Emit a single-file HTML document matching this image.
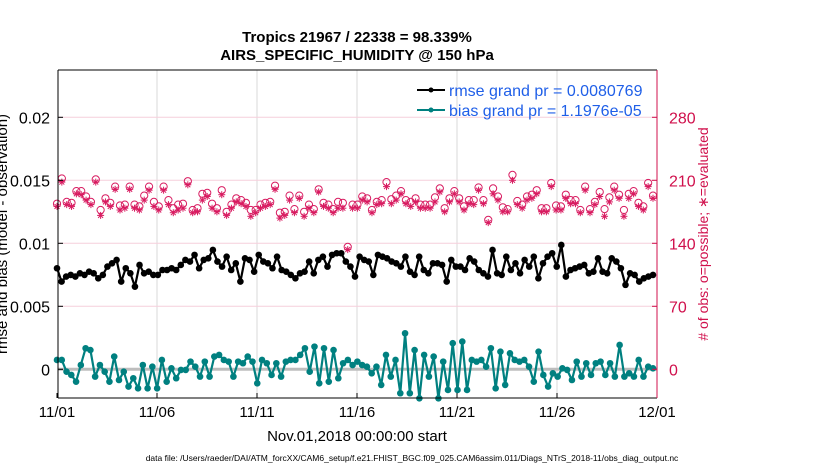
<!DOCTYPE html>
<html><head><meta charset="utf-8">
<style>
html,body{margin:0;padding:0;background:#fff;}
svg{display:block;font-family:"Liberation Sans",Arial,sans-serif;}
</style></head>
<body>
<svg id="chart" width="830" height="470" viewBox="0 0 830 470" xmlns="http://www.w3.org/2000/svg">
  <g id="grid"></g>
  <g id="marks"></g>
  <g id="axes"></g>
  <text x="357" y="42" text-anchor="middle" font-size="15" font-weight="bold">Tropics 21967 / 22338 = 98.339%</text>
  <text x="357" y="60" text-anchor="middle" font-size="15" font-weight="bold">AIRS_SPECIFIC_HUMIDITY @ 150 hPa</text>
  <g>
    <g>
      <line x1="417" y1="90" x2="445" y2="90" stroke="#000" stroke-width="2"/>
      <circle cx="431" cy="90" r="2.5" fill="#000"/>
      <text x="449" y="96" font-size="16" fill="#1f5fe8">rmse grand pr = 0.0080769</text>
    </g>
    <g>
      <line x1="417" y1="110" x2="445" y2="110" stroke="#008080" stroke-width="2"/>
      <circle cx="431" cy="110" r="2.5" fill="#008080"/>
      <text x="449" y="116" font-size="16" fill="#1f5fe8">bias grand pr = 1.1976e-05</text>
    </g>
  </g>
  <text transform="translate(7,234) rotate(-90)" text-anchor="middle" font-size="15">rmse and bias (model - observation)</text>
  <text transform="translate(708,234) rotate(-90)" text-anchor="middle" font-size="14" fill="#d0104c"># of obs: o=possible; ∗=evaluated</text>
  <text x="357" y="441" text-anchor="middle" font-size="15">Nov.01,2018 00:00:00 start</text>
  <text x="412" y="461" text-anchor="middle" font-size="8.5">data file: /Users/raeder/DAI/ATM_forcXX/CAM6_setup/f.e21.FHIST_BGC.f09_025.CAM6assim.011/Diags_NTrS_2018-11/obs_diag_output.nc</text>
</svg>
<script>
const xTickLabels = ["11/01","11/06","11/11","11/16","11/21","11/26","12/01"];
const xTickDays = [0,5,10,15,20,25,30];
const yLeftTicks = [0,0.005,0.01,0.015,0.02];
const yLeftLabels = ["0","0.005","0.01","0.015","0.02"];
const yRightTicks = [0,70,140,210,280];
const rmse = [0.00802,0.00696,0.00736,0.00749,0.00736,0.00762,0.00749,0.00775,0.00762,0.00722,0.00749,0.00815,0.00841,0.00868,0.00696,0.00802,0.00762,0.00656,0.00828,0.00762,0.00775,0.00749,0.00749,0.00788,0.00788,0.00802,0.00788,0.00828,0.00868,0.00855,0.00908,0.00802,0.00868,0.00881,0.00947,0.00855,0.00815,0.00894,0.00788,0.00841,0.00696,0.00881,0.00868,0.00775,0.00908,0.00855,0.00841,0.00802,0.00894,0.00788,0.00775,0.00749,0.00722,0.00762,0.00775,0.00855,0.00762,0.00868,0.00894,0.00815,0.00908,0.00921,0.00921,0.00855,0.00815,0.00736,0.00894,0.00868,0.00855,0.00749,0.00908,0.00894,0.00881,0.00855,0.00841,0.00815,0.00894,0.00775,0.00749,0.00894,0.00788,0.00762,0.00841,0.00841,0.00828,0.00696,0.00868,0.00815,0.00815,0.00788,0.00881,0.00855,0.00788,0.00762,0.00736,0.00947,0.00762,0.00749,0.00894,0.00788,0.00841,0.00762,0.00868,0.00815,0.00894,0.00722,0.00841,0.00894,0.00921,0.00815,0.00987,0.00736,0.00788,0.00802,0.00815,0.00828,0.00762,0.00775,0.00881,0.00775,0.00762,0.00881,0.00855,0.00802,0.00670,0.00762,0.00749,0.00696,0.00722,0.00736,0.00749];
const bias = [0.00074,0.00074,-0.00019,-0.00045,-0.00098,0.00034,0.00167,0.00153,-0.00058,0.00034,-0.00019,-0.00098,0.00101,-0.00085,-0.00019,-0.00137,-0.00071,-0.00151,0.00034,-0.00151,0.00021,-0.00151,0.00074,-0.00098,0.00008,-0.00071,-0.00005,-0.00005,0.00061,0.00021,-0.00058,0.00061,-0.00058,0.00101,0.00114,0.00074,0.00061,-0.00058,0.00061,0.00048,0.00101,0.00061,-0.00111,0.00074,0.00048,-0.00045,0.00048,-0.00058,0.00061,0.00074,0.00074,0.00114,0.00167,-0.00019,0.00180,-0.00111,0.00167,-0.00098,0.00153,-0.00071,0.00048,0.00074,0.00034,0.00061,0.00034,0.00021,-0.00032,0.00021,-0.00124,0.00114,-0.00058,0.00074,-0.00190,0.00286,-0.00190,0.00153,-0.00230,0.00114,-0.00058,0.00101,-0.00230,0.00061,-0.00164,0.00207,-0.00164,0.00220,-0.00164,0.00074,0.00061,0.00074,0.00021,0.00167,-0.00151,0.00140,-0.00124,0.00127,0.00074,0.00061,0.00074,0.00021,-0.00098,0.00140,-0.00045,-0.00137,-0.00032,-0.00058,0.00008,-0.00005,-0.00085,0.00061,-0.00058,0.00048,-0.00045,0.00048,0.00061,-0.00045,0.00048,-0.00058,0.00193,-0.00058,-0.00032,-0.00058,0.00074,-0.00058,0.00021,0.00008];
const evaluated = [181,208,183,181,195,194,188,183,208,171,186,181,200,177,179,200,179,177,188,199,181,177,199,183,174,177,179,205,174,175,188,192,179,175,194,171,179,186,184,181,170,174,179,181,183,200,168,171,188,174,190,170,179,174,197,181,179,174,179,179,133,179,179,188,186,174,183,184,203,184,188,195,184,181,186,179,179,179,186,197,175,186,195,186,177,184,183,199,184,163,195,188,175,175,210,183,179,188,190,195,175,175,203,177,177,190,184,184,174,199,174,183,192,170,186,199,190,170,190,195,181,177,203,190];
const possible = [184,212,186,185,198,198,192,186,211,177,190,185,203,182,183,203,183,181,193,203,186,181,203,188,179,183,184,209,177,179,195,196,184,179,199,175,183,190,188,185,177,177,183,185,186,204,174,175,193,178,193,175,183,178,200,185,183,178,186,185,136,183,183,192,190,177,186,188,208,189,193,198,188,186,190,183,183,183,191,201,179,190,198,190,181,188,188,202,188,166,201,192,180,178,216,187,183,192,194,199,179,179,207,182,181,194,188,188,177,203,178,186,197,178,191,203,194,177,195,198,185,181,207,193];

const NS="http://www.w3.org/2000/svg";
const L=58,R=657,T=70,B=398;
const X0=57, PXD=20;
const SPAN_DAYS=29.8;
function xScale(d){return X0+d*PXD;}
function yLeft(v){return 369.3-v/0.005*63;}
function yRight(c){return 369.3-c/70*63;}
function tIdx(i,n){return xScale(i*SPAN_DAYS/(n-1));}
function mk(tag,attrs,parent){const e=document.createElementNS(NS,tag);for(const k in attrs)e.setAttribute(k,attrs[k]);parent.appendChild(e);return e;}
const grid=document.getElementById('grid'),marks=document.getElementById('marks'),axes=document.getElementById('axes');

mk('rect',{x:L,y:T,width:R-L,height:B-T,fill:'#fff'},grid);
xTickDays.forEach((d,i)=>{
  const x=xScale(d);
  if(i>0&&i<xTickDays.length-1){const g=mk('line',{x1:x,y1:T,x2:x,y2:B,stroke:'#dadada','stroke-width':1},grid);
  
  }
  const t=mk('text',{x:x,y:417,'text-anchor':'middle','font-size':15},axes);
  t.textContent=xTickLabels[i];
  
  
  mk('line',{x1:x,y1:B,x2:x,y2:B-5,stroke:'#000'},axes);
});
yRightTicks.forEach((c,i)=>{
  const y=yRight(c);
  if(c>0){const g=mk('line',{x1:L,y1:y,x2:R,y2:y,stroke:'#f6cfdc','stroke-width':1},grid);
  
  }
  const t=mk('text',{x:R+12,y:y+6,'font-size':16,fill:'#d0104c'},axes);
  t.textContent=String(c);
  
  
  mk('line',{x1:R,y1:y,x2:R-5,y2:y,stroke:'#d0104c'},axes);
});
yLeftTicks.forEach((v,i)=>{
  const y=yLeft(v);
  const t=mk('text',{x:L-8,y:y+6,'text-anchor':'end','font-size':16},axes);
  t.textContent=yLeftLabels[i];
  
  
  mk('line',{x1:L,y1:y,x2:L+5,y2:y,stroke:'#000'},axes);
});
mk('line',{x1:L,y1:yLeft(0),x2:R,y2:yLeft(0),stroke:'#bdbdbd','stroke-width':3},grid);

possible.forEach((c,i)=>{
  const e=mk('circle',{cx:tIdx(i,possible.length),cy:yRight(c),r:3.6,fill:'none',stroke:'#d81b60','stroke-width':1},marks);
  
  
});
evaluated.forEach((c,i)=>{
  const x=tIdx(i,evaluated.length),y=yRight(c);
  const g=mk('g',{stroke:'#d81b60','stroke-width':1},marks);
  
  
  for(let a=0;a<4;a++){const an=a*Math.PI/4;const dx=3.5*Math.cos(an),dy=3.5*Math.sin(an);
    mk('line',{x1:x-dx,y1:y-dy,x2:x+dx,y2:y+dy},g);}
});
function series(vals,color,name){
  const n=vals.length;
  const pts=vals.map((v,i)=>tIdx(i,n).toFixed(1)+','+yLeft(v).toFixed(1)).join(' ');
  const pl=mk('polyline',{points:pts,fill:'none',stroke:color,'stroke-width':2.2,'stroke-linejoin':'round'},marks);
  
  
  vals.forEach((v,i)=>{
    const c=mk('circle',{cx:tIdx(i,n),cy:yLeft(v),r:3.3,fill:color},marks);
    
    
  });
}
series(rmse,'#000','rmse');
series(bias,'#008080','bias');
mk('line',{x1:L,y1:T,x2:R,y2:T,stroke:'#000'},axes);
mk('line',{x1:L,y1:B,x2:R,y2:B,stroke:'#000'},axes);
mk('line',{x1:L,y1:T,x2:L,y2:B,stroke:'#000'},axes);
mk('line',{x1:R,y1:T,x2:R,y2:B,stroke:'#d0104c'},axes);
</script>
</body></html>
